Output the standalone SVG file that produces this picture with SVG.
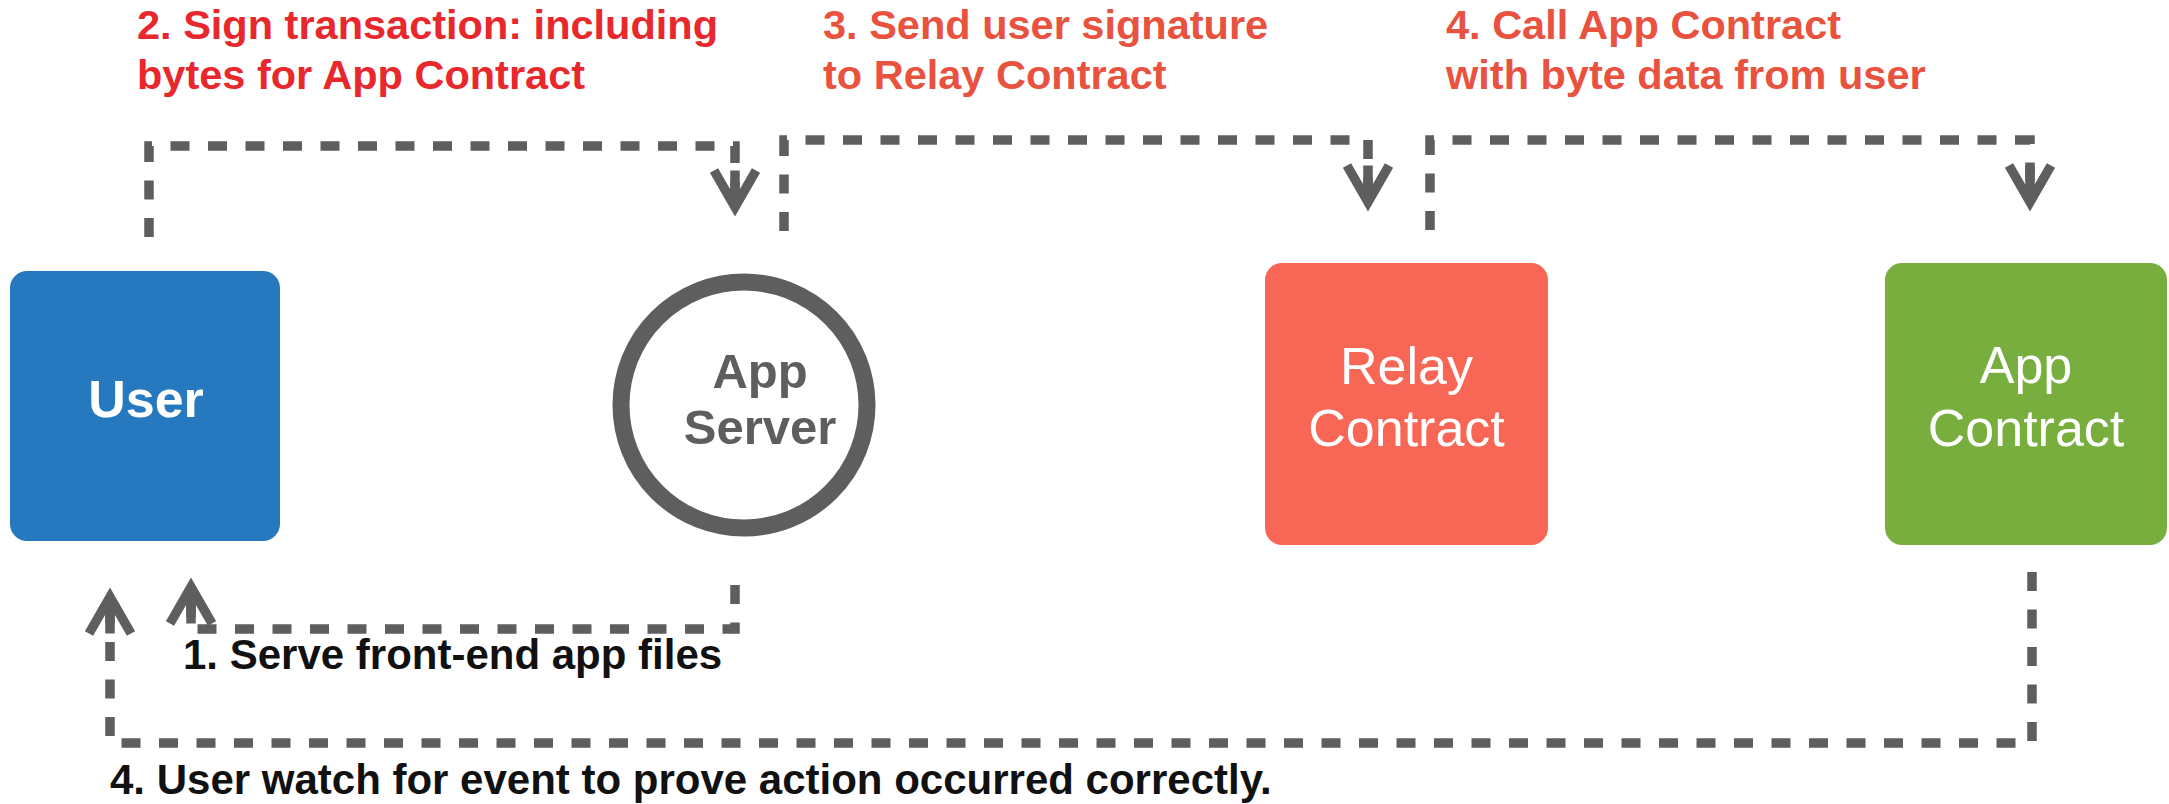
<svg xmlns="http://www.w3.org/2000/svg" width="2169" height="804" viewBox="0 0 2169 804">
<style>
  .lbl { font-family: "Liberation Sans", Arial, Helvetica, sans-serif; font-weight: bold; font-size: 41.5px; }
  .red2 { fill: #e8282c; }
  .red { fill: #e8523f; }
  .blk { fill: #111111; font-size: 42px; }
  .conn { fill: none; stroke: #5e5e5e; stroke-width: 9.5; stroke-dasharray: 19 18.5; stroke-linejoin: miter; }
  .ntxt { font-family: "Liberation Sans", Arial, Helvetica, sans-serif; text-anchor: middle; }
</style>
<defs>
  <marker id="ah" markerUnits="userSpaceOnUse" orient="auto" refX="0" refY="0" markerWidth="1" markerHeight="1" overflow="visible">
    <path d="M-36.5,-21 L0,0 L-36.5,21 M-36.5,0 L0,0" fill="none" stroke="#5e5e5e" stroke-width="9.5" stroke-linejoin="miter" stroke-dasharray="none"/>
  </marker>
</defs>
<rect x="0" y="0" width="2169" height="804" fill="#ffffff"/>

<g id="labels">
  <text class="lbl red2" x="137" y="39">2. Sign transaction: including</text>
  <text class="lbl red2" x="137" y="89">bytes for App Contract</text>
  <text class="lbl red" x="823" y="39">3. Send user signature</text>
  <text class="lbl red" x="823" y="89">to Relay Contract</text>
  <text class="lbl red" x="1446" y="39">4. Call App Contract</text>
  <text class="lbl red" x="1446" y="89">with byte data from user</text>
  <text class="lbl blk" x="183" y="669">1. Serve front-end app files</text>
  <text class="lbl blk" x="110" y="794">4. User watch for event to prove action occurred correctly.</text>
</g>

<g id="connectors">
  <path class="conn" d="M149,237 L149,146 L735,146 L735,207" marker-end="url(#ah)"/>
  <path class="conn" d="M784,231 L784,140 L1368,140 L1368,202" marker-end="url(#ah)"/>
  <path class="conn" d="M1430,230 L1430,140 L2030,140 L2030,202" marker-end="url(#ah)"/>
  <path class="conn" d="M735,585 L735,629 L191,629 L191,587" marker-end="url(#ah)"/>
  <path class="conn" d="M2032,572 L2032,743 L110,743 L110,597" marker-end="url(#ah)"/>
</g>

<g id="node-user">
  <rect x="10" y="271" width="270" height="270" rx="17" ry="17" fill="#2779bf"/>
  <text class="ntxt" x="146" y="417" font-size="52" font-weight="bold" fill="#ffffff">User</text>
</g>

<g id="node-app-server">
  <circle cx="744" cy="405" r="123" fill="#ffffff" stroke="#5e5e5e" stroke-width="17"/>
  <text class="ntxt" x="760" y="388" font-size="49" font-weight="bold" fill="#5e5e5e">App</text>
  <text class="ntxt" x="760" y="444" font-size="49" font-weight="bold" fill="#5e5e5e">Server</text>
</g>

<g id="node-relay-contract">
  <rect x="1265" y="263" width="283" height="282" rx="17" ry="17" fill="#f86655"/>
  <text class="ntxt" x="1406.5" y="384" font-size="52" fill="#ffffff">Relay</text>
  <text class="ntxt" x="1406.5" y="446" font-size="52" fill="#ffffff">Contract</text>
</g>

<g id="node-app-contract">
  <rect x="1885" y="263" width="282" height="282" rx="17" ry="17" fill="#77ae3e"/>
  <text class="ntxt" x="2026" y="383" font-size="52" fill="#ffffff">App</text>
  <text class="ntxt" x="2026" y="446" font-size="52" fill="#ffffff">Contract</text>
</g>
</svg>
